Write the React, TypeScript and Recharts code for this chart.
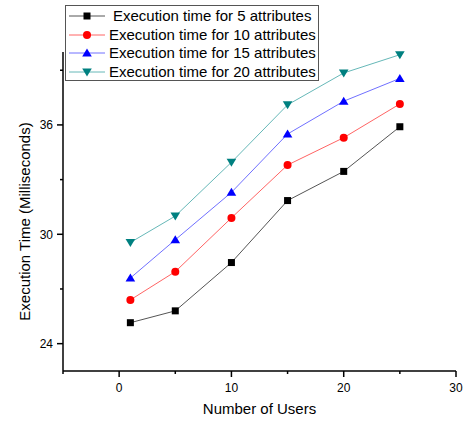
import { LineChart, Line, XAxis, YAxis, Legend } from "recharts";

const users = [1, 5, 10, 15, 20, 25];
const time5 = [25.15, 25.8, 28.45, 31.85, 33.45, 35.9];
const time10 = [26.4, 27.95, 30.9, 33.8, 35.3, 37.15];
const time15 = [27.6, 29.7, 32.3, 35.5, 37.3, 38.55];
const time20 = [29.55, 31.0, 33.95, 37.1, 38.85, 39.85];

const xTicks = [-5, 0, 5, 10, 15, 20, 25, 30];
const xLabelTicks = [0, 10, 20, 30];
const yTicks = [24, 27, 30, 33, 36, 39];
const yLabelTicks = [24, 30, 36];

const FONT = "'Liberation Sans', Arial, sans-serif";

type Shape = "square" | "circle" | "up" | "down";

interface SeriesDef {
  key: string;
  name: string;
  color: string;
  lineColor: string;
  shape: Shape;
}

const series: SeriesDef[] = [
  { key: "t5", name: "Execution time for 5 attributes", color: "#000000", lineColor: "#555555", shape: "square" },
  { key: "t10", name: "Execution time for 10 attributes", color: "#ff0000", lineColor: "#ff6464", shape: "circle" },
  { key: "t15", name: "Execution time for 15 attributes", color: "#0000ff", lineColor: "#7070ff", shape: "up" },
  { key: "t20", name: "Execution time for 20 attributes", color: "#008080", lineColor: "#66b8b8", shape: "down" },
];

const data = users.map((u, i) => ({
  users: u,
  t5: time5[i],
  t10: time10[i],
  t15: time15[i],
  t20: time20[i],
}));

function Marker({ cx, cy, shape, color }: { cx: number; cy: number; shape: Shape; color: string }) {
  if (shape === "square") {
    return <rect x={cx - 3.5} y={cy - 3.5} width={7} height={7} fill={color} />;
  }
  if (shape === "circle") {
    return <circle cx={cx} cy={cy} r={4} fill={color} />;
  }
  if (shape === "up") {
    return <polygon points={`${cx - 4.8},${cy + 3.5} ${cx + 4.8},${cy + 3.5} ${cx},${cy - 4.5}`} fill={color} />;
  }
  return <polygon points={`${cx - 4.8},${cy - 3.5} ${cx + 4.8},${cy - 3.5} ${cx},${cy + 4.5}`} fill={color} />;
}

function XTick(props: any) {
  const { x, y, payload } = props;
  const major = xLabelTicks.includes(payload.value);
  return (
    <g>
      <line x1={x} y1={y} x2={x} y2={y + (major ? 6 : 3)} stroke="#000" strokeWidth={1.5} />
      {major && (
        <text x={x} y={y + 21} textAnchor="middle" fontSize={12} fontFamily={FONT} fill="#000">
          {payload.value}
        </text>
      )}
    </g>
  );
}

function YTick(props: any) {
  const { x, y, payload } = props;
  const major = yLabelTicks.includes(payload.value);
  return (
    <g>
      <line x1={x} y1={y} x2={x - (major ? 6 : 3)} y2={y} stroke="#000" strokeWidth={1.5} />
      {major && (
        <text x={x - 10} y={y + 4.5} textAnchor="end" fontSize={12} fontFamily={FONT} fill="#000">
          {payload.value}
        </text>
      )}
    </g>
  );
}

function LegendBox() {
  return (
    <div
      style={{
        width: 254,
        height: 76,
        boxSizing: "border-box",
        border: "1px solid #555",
        background: "#fff",
        padding: "1px 0 0 2px",
        fontFamily: FONT,
        fontSize: 15,
        color: "#000",
      }}
    >
      {series.map((s, i) => (
        <div key={s.key} style={{ display: "flex", alignItems: "center", height: 18.5 }}>
          <svg width={38} height={12} style={{ flex: "none" }}>
            <line x1={1} y1={6} x2={37} y2={6} stroke={s.lineColor} strokeWidth={1} />
            <Marker cx={19} cy={6} shape={s.shape} color={s.color} />
          </svg>
          <span style={{ marginLeft: i === 0 ? 7 : 3, whiteSpace: "nowrap", lineHeight: "18px" }}>{s.name}</span>
        </div>
      ))}
    </div>
  );
}

export default function App() {
  return (
    <div style={{ position: "absolute", left: 0, top: 0, background: "#fff" }}>
      <LineChart width={466} height={421} data={data} margin={{ top: 52, right: 10, bottom: 20, left: 0 }}>
        <XAxis
          dataKey="users"
          type="number"
          domain={[-5, 30]}
          ticks={xTicks}
          interval={0}
          height={30}
          tickSize={0}
          tickMargin={0}
          tickLine={false}
          axisLine={{ stroke: "#000", strokeWidth: 1.5 }}
          tick={<XTick />}
          label={{
            value: "Number of Users",
            position: "bottom",
            offset: 2,
            fontSize: 15,
            fontFamily: FONT,
            fill: "#000",
          }}
        />
        <YAxis
          type="number"
          domain={[22.5, 40]}
          ticks={yTicks}
          interval={0}
          width={63}
          tickSize={0}
          tickMargin={0}
          tickLine={false}
          axisLine={{ stroke: "#000", strokeWidth: 1.5 }}
          tick={<YTick />}
          label={{
            content: (p: any) => {
              const vb = p.viewBox || { x: 0, y: 52, height: 319 };
              const cx = vb.x + 24;
              const cy = vb.y + vb.height / 2 + 10;
              return (
                <text
                  x={cx}
                  y={cy}
                  transform={`rotate(-90 ${cx} ${cy})`}
                  textAnchor="middle"
                  dominantBaseline="central"
                  fontSize={15}
                  fontFamily={FONT}
                  fill="#000"
                >
                  Execution Time (Milliseconds)
                </text>
              );
            },
          }}
        />
        <Legend
          layout="vertical"
          align="center"
          verticalAlign="middle"
          wrapperStyle={{ left: 65, top: 5, width: 254, height: 76 }}
          content={() => <LegendBox />}
        />
        {series.map((s) => (
          <Line
            key={s.key}
            dataKey={s.key}
            name={s.name}
            type="linear"
            stroke={s.lineColor}
            strokeWidth={1}
            isAnimationActive={false}
            dot={(p: any) => <Marker key={`${s.key}-${p.index}`} cx={p.cx} cy={p.cy} shape={s.shape} color={s.color} />}
            activeDot={false}
          />
        ))}
      </LineChart>
    </div>
  );
}
